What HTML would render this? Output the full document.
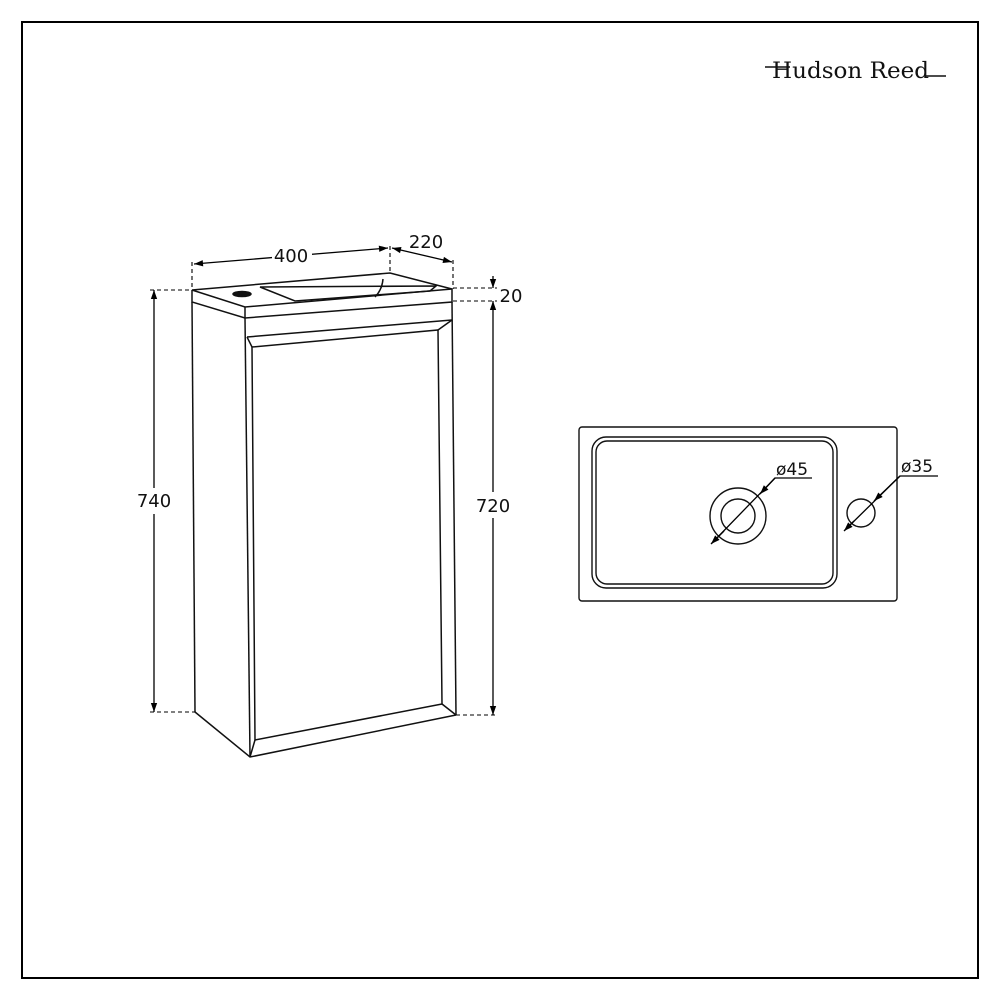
<!DOCTYPE html>
<html><head><style>html,body{margin:0;padding:0;background:#fff}svg{display:block}</style></head>
<body>
<svg width="1000" height="1000" viewBox="0 0 1000 1000" xmlns="http://www.w3.org/2000/svg" font-family="'DejaVu Sans','Liberation Sans',sans-serif">
<defs>
<marker id="a" viewBox="0 0 10 10" refX="10" refY="5" markerWidth="12" markerHeight="9" markerUnits="userSpaceOnUse" orient="auto-start-reverse"><path d="M0,1.5 L10,5 L0,8.5z" fill="#000"/></marker>
</defs>
<rect x="22" y="22" width="956" height="956" fill="none" stroke="#000" stroke-width="2"/>
<!-- logo -->
<text x="772" y="78" font-family="'DejaVu Serif','Liberation Serif',serif" font-size="22" fill="#111" textLength="157" lengthAdjust="spacingAndGlyphs">Hudson Reed</text>
<line x1="765" y1="67" x2="790" y2="67" stroke="#111" stroke-width="1.5"/>
<line x1="926" y1="76" x2="946" y2="76" stroke="#111" stroke-width="1.5"/>
<g stroke="#111" stroke-width="1.5" fill="none">
<path d="M192,290 L390,273 L452,289 L245,307 Z"/>
<path d="M192,290 L192,302 L245,318 L452,302 L452,289"/>
<line x1="245" y1="307" x2="245" y2="318"/>
<path d="M260,287 L436,286 L430,291 L295,301 Z"/>
<path d="M383,279 Q382,290 375,297"/>
<ellipse cx="242" cy="294" rx="9" ry="2.5" fill="#111"/>
<line x1="192" y1="302" x2="195" y2="712"/>
<line x1="245" y1="318" x2="250" y2="757"/>
<line x1="452" y1="302" x2="456" y2="715"/>
<path d="M195,712 L250,757 L456,715"/>
<line x1="247" y1="337" x2="452" y2="320"/>
<path d="M252,347 L438,330 L442,704 L255,740 Z"/>
<line x1="247" y1="337" x2="252" y2="347"/>
<line x1="452" y1="320" x2="438" y2="330"/>
<line x1="442" y1="704" x2="456" y2="715"/>
<line x1="255" y1="740" x2="250" y2="757"/>
</g>
<g stroke="#000" stroke-width="1.1" fill="none" stroke-dasharray="4,3">
<line x1="192" y1="262" x2="192" y2="290"/>
<line x1="390" y1="246" x2="390" y2="273"/>
<line x1="453" y1="260" x2="453" y2="289"/>
<line x1="453" y1="288" x2="497" y2="288"/>
<line x1="453" y1="301" x2="497" y2="301"/>
<line x1="456" y1="715" x2="497" y2="715"/>
<line x1="150" y1="290" x2="192" y2="290"/>
<line x1="150" y1="712" x2="195" y2="712"/>
</g>
<g stroke="#000" stroke-width="1.3" fill="none">
<line x1="194" y1="264" x2="388" y2="248" marker-start="url(#a)" marker-end="url(#a)"/>
<line x1="392" y1="248" x2="452" y2="262" marker-start="url(#a)" marker-end="url(#a)"/>
<line x1="493" y1="276" x2="493" y2="288" marker-end="url(#a)"/>
<line x1="493" y1="301" x2="493" y2="715" marker-start="url(#a)" marker-end="url(#a)"/>
<line x1="154" y1="290" x2="154" y2="712" marker-start="url(#a)" marker-end="url(#a)"/>
</g>
<g font-size="18" fill="#111" text-anchor="middle">
<rect x="272" y="242" width="40" height="22" fill="#fff"/>
<text x="291" y="262">400</text>
<text x="426" y="248">220</text>
<text x="511" y="302">20</text>
<rect x="474" y="492" width="40" height="26" fill="#fff"/>
<text x="493" y="512">720</text>
<rect x="134" y="488" width="40" height="26" fill="#fff"/>
<text x="154" y="507">740</text>
</g>
<g stroke="#111" stroke-width="1.4" fill="none">
<rect x="579" y="427" width="318" height="174" rx="3"/>
<rect x="592" y="437" width="245" height="151" rx="14"/>
<rect x="596" y="441" width="237" height="143" rx="11"/>
<circle cx="738" cy="516" r="28"/>
<circle cx="738" cy="516" r="17"/>
<circle cx="861" cy="513" r="14"/>
</g>
<g stroke="#000" stroke-width="1.3" fill="none">
<path d="M812,478 L775,478 L712,543" />
<line x1="775" y1="478" x2="760" y2="494" marker-end="url(#a)"/>
<line x1="724" y1="531" x2="711" y2="544" marker-end="url(#a)"/>
<path d="M938,476 L900,476 L845,530"/>
<line x1="900" y1="476" x2="874" y2="501" marker-end="url(#a)"/>
<line x1="854" y1="521" x2="844" y2="531" marker-end="url(#a)"/>
</g>
<g font-size="17" fill="#111">
<text x="776" y="475">ø45</text>
<text x="901" y="472">ø35</text>
</g>
</svg>
</body></html>
